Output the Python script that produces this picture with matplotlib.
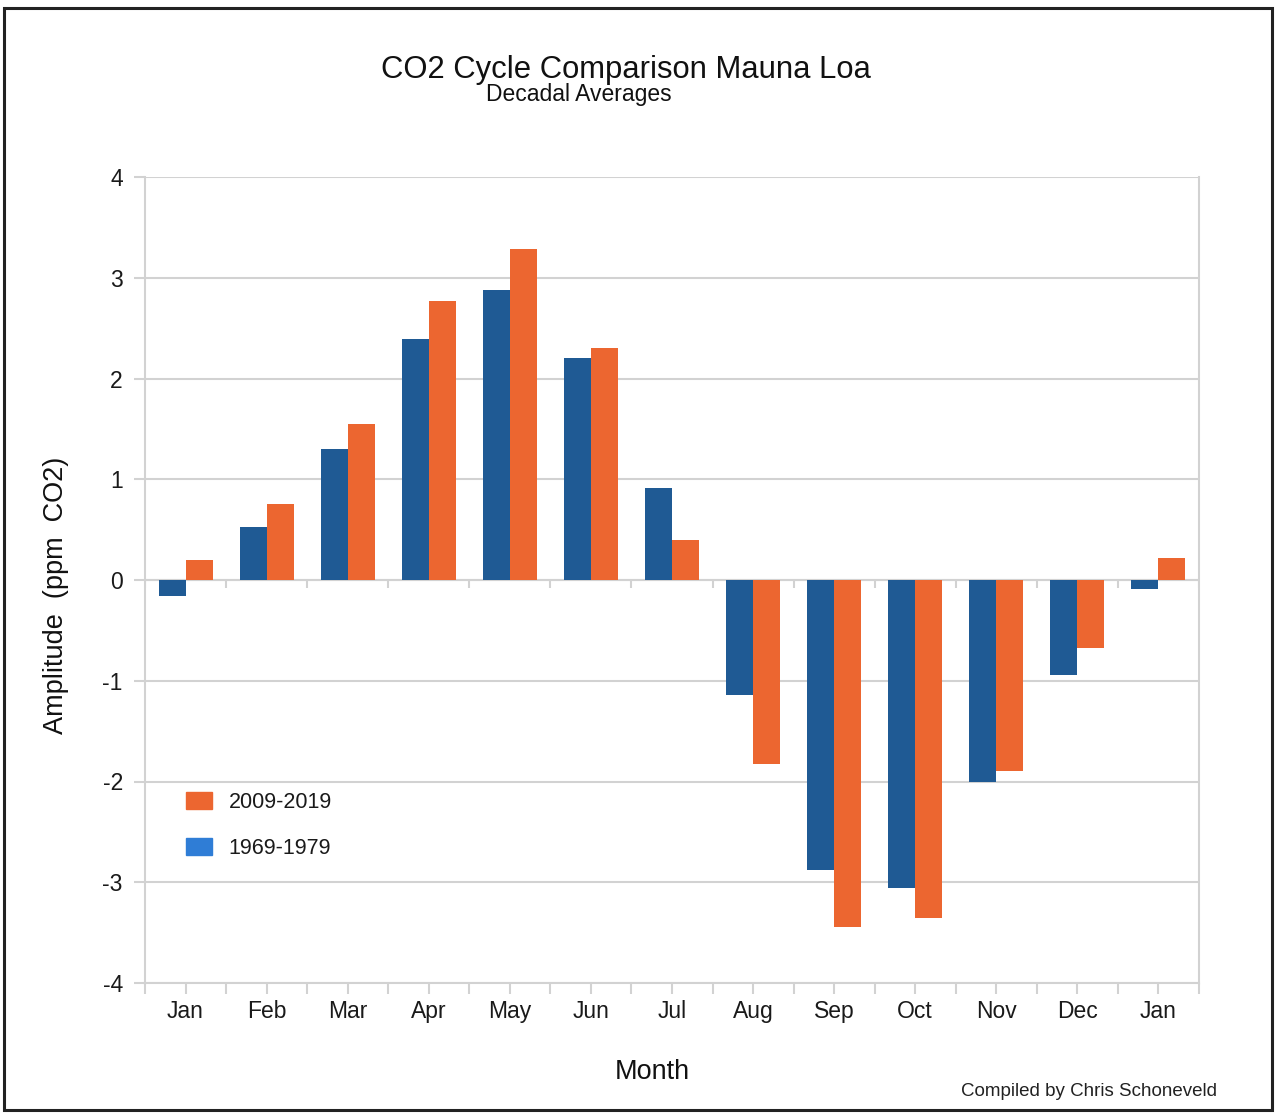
import numpy as np
import matplotlib

matplotlib.use("Agg")
import matplotlib.pyplot as plt
from matplotlib.patches import Patch, Rectangle

plt.rcParams["font.family"] = ["Liberation Sans", "DejaVu Sans"]

# data
months = ["Jan", "Feb", "Mar", "Apr", "May", "Jun", "Jul",
          "Aug", "Sep", "Oct", "Nov", "Dec", "Jan"]
old_decade = [-0.16, 0.53, 1.30, 2.39, 2.88, 2.20, 0.91,
              -1.14, -2.88, -3.06, -2.00, -0.94, -0.09]   # 1969-1979
new_decade = [0.20, 0.75, 1.55, 2.77, 3.29, 2.30, 0.40,
              -1.83, -3.44, -3.35, -1.90, -0.67, 0.22]     # 2009-2019

BLUE = "#1f5a94"
BLUE_LEG = "#2f7dd6"
ORANGE = "#ec6630"
GRID = "#d2d2d2"

W, H = 1276, 1113
fig = plt.figure(figsize=(W / 100, H / 100), dpi=100)
ax = fig.add_axes([145 / W, 1 - 983 / H, (1199 - 145) / W, (983 - 177) / H])

x = np.arange(len(months))
bw = 0.333
ax.bar(x - bw / 2, old_decade, bw, color=BLUE, zorder=3)
ax.bar(x + bw / 2, new_decade, bw, color=ORANGE, zorder=3)

ax.set_xlim(-0.5, len(months) - 0.5)
ax.set_ylim(-4, 4)
ax.set_yticks(np.arange(-4, 5, 1))
ax.set_yticklabels([str(v) for v in range(-4, 5)])
ax.set_xticks(x)
ax.set_xticklabels(months)
ax.set_xticks(np.arange(-0.5, len(months), 1), minor=True)

ax.grid(axis="y", color=GRID, lw=1.5, zorder=0)
ax.axhline(0, color=GRID, lw=1.5, zorder=1)
# little ticks on the zero line at the category boundaries
ax.vlines(np.arange(-0.5, len(months), 1), -0.08, 0, color=GRID, lw=1.5, zorder=1)

for s in ["left", "right", "bottom"]:
    ax.spines[s].set_color(GRID)
    ax.spines[s].set_linewidth(1.5)
ax.spines["top"].set_visible(False)

ax.tick_params(axis="y", length=8, width=1.5, color=GRID, pad=8,
               labelsize=16.5, labelcolor="#1a1a1a")
ax.tick_params(axis="x", which="both", length=8, width=1.5, color=GRID,
               pad=4, labelsize=16.5, labelcolor="#1a1a1a")

handles = [Patch(color=ORANGE), Patch(color=BLUE_LEG)]
fig.legend(handles, ["2009-2019", "1969-1979"], loc="upper left",
           bbox_to_anchor=(175 / W, 1 - 781 / H), frameon=False,
           fontsize=15.5, handlelength=1.2, handleheight=0.85,
           handletextpad=0.8, labelspacing=1.15, borderpad=0,
           labelcolor="#1a1a1a")

fig.text(626 / W, 1 - 70 / H, "CO2 Cycle Comparison Mauna Loa",
         ha="center", va="center", fontsize=22.3, color="#111111")
fig.text(579 / W, 1 - 95 / H, "Decadal Averages",
         ha="center", va="center", fontsize=16.5, color="#111111")
fig.text(56 / W, 1 - 595 / H, "Amplitude  (ppm  CO2)", rotation=90,
         ha="center", va="center", fontsize=19.5, color="#111111")
fig.text(652 / W, 1 - 1072 / H, "Month",
         ha="center", va="center", fontsize=19.5, color="#111111")
fig.text(1089 / W, 1 - 1092 / H, "Compiled by Chris Schoneveld",
         ha="center", va="center", fontsize=13.5, color="#222222")

# outer frame of the picture
fig.patches.append(Rectangle((4 / W, 3 / H), (1272 - 4) / W, (1105 - 3) / H,
                             transform=fig.transFigure, fill=False,
                             edgecolor="#222222", lw=2.2))

fig.savefig("out.png", dpi=100)
